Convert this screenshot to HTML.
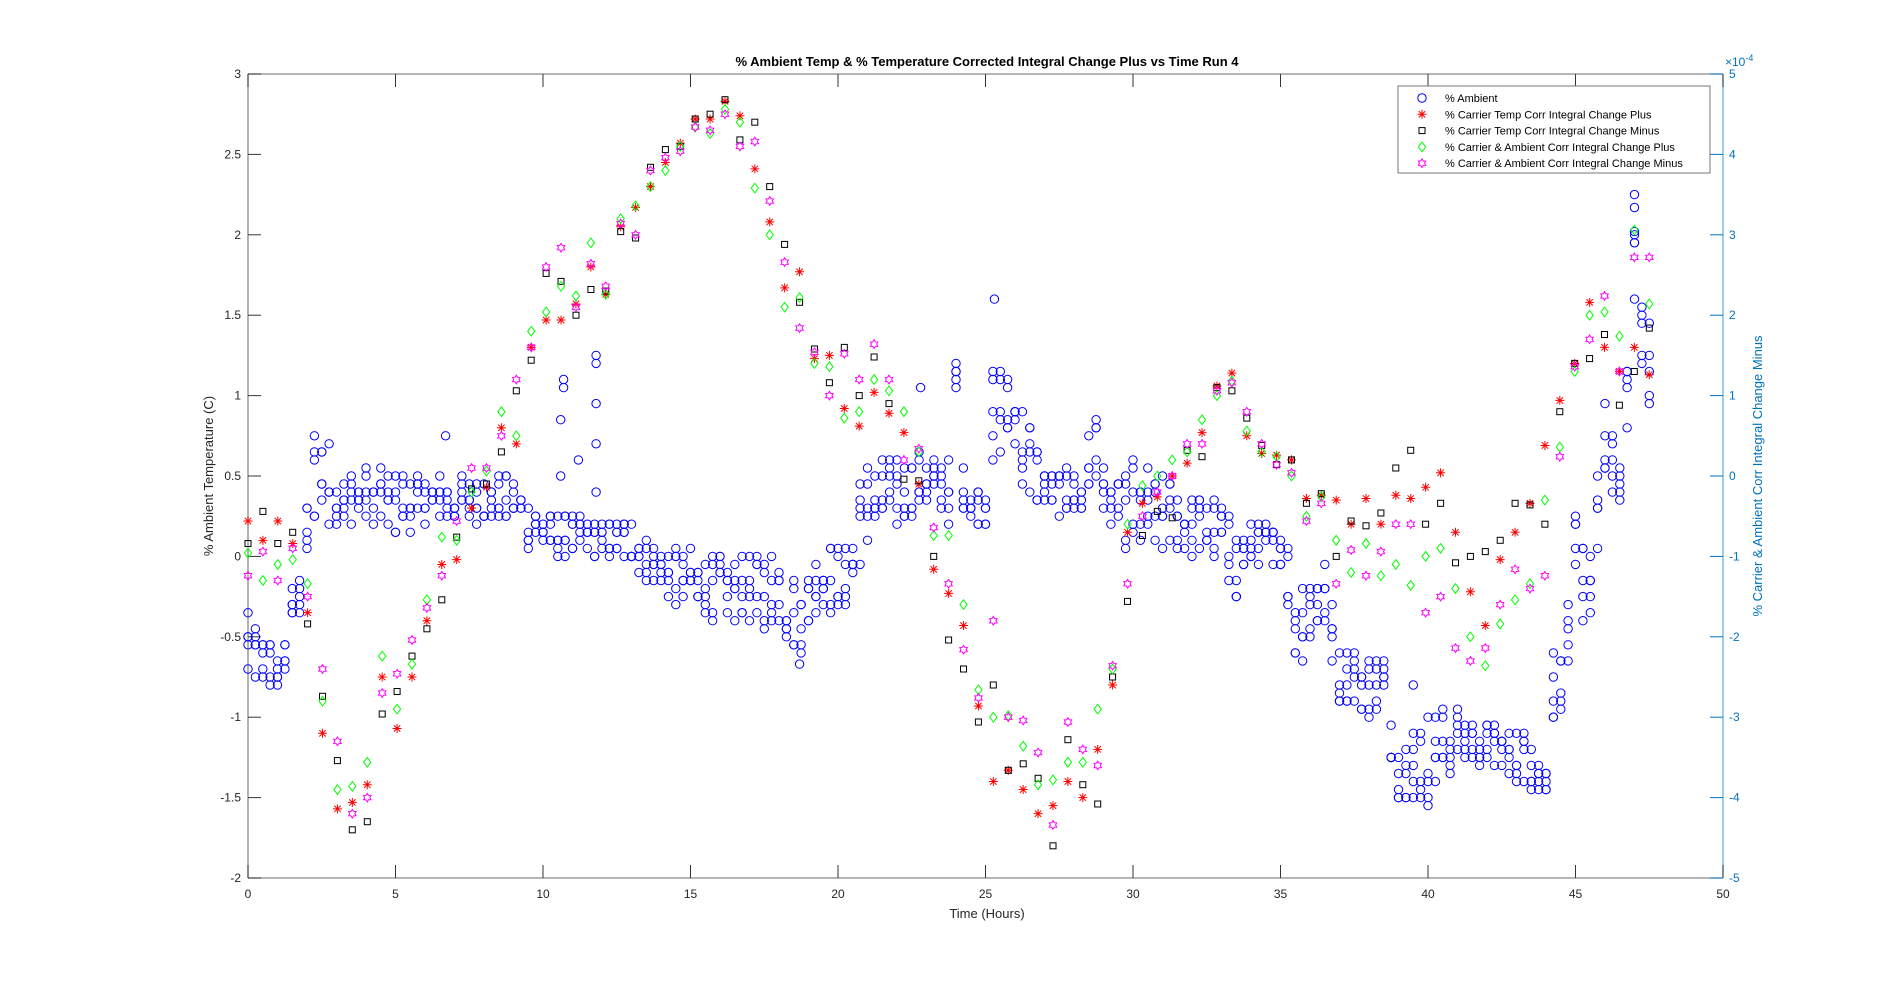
<!DOCTYPE html>
<html><head><meta charset="utf-8"><style>
html,body{margin:0;padding:0;background:#fff;}
svg{display:block;font-family:"Liberation Sans",sans-serif;}
</style></head><body>
<svg id="s" width="1904" height="987" xmlns="http://www.w3.org/2000/svg"></svg>
<script>
var L=248,R=1723,T=74,B=878;
function X(t){return L+t*(R-L)/50;}
function Y(v){return T+(3-v)*(B-T)/5;}
function YR(r){return T+(5-r)*(B-T)/10;}
var o=[];
o.push('<rect x="'+L+'" y="'+T+'" width="'+(R-L)+'" height="'+(B-T)+'" fill="#fff"/>');
o.push('<line x1="'+L+'" y1="'+T+'" x2="'+R+'" y2="'+T+'" stroke="#888" stroke-width="1.3"/>');
o.push('<line x1="'+L+'" y1="'+B+'" x2="'+R+'" y2="'+B+'" stroke="#888" stroke-width="1.3"/>');
o.push('<line x1="'+L+'" y1="'+T+'" x2="'+L+'" y2="'+B+'" stroke="#888" stroke-width="1.3"/>');
o.push('<line x1="'+R+'" y1="'+T+'" x2="'+R+'" y2="'+B+'" stroke="#6aaee0" stroke-width="1.3"/>');
for(var i=0;i<=10;i++){var x=X(i*5);
 o.push('<line x1="'+x+'" y1="'+B+'" x2="'+x+'" y2="'+(B-13)+'" stroke="#333" stroke-width="1"/>');
 o.push('<line x1="'+x+'" y1="'+T+'" x2="'+x+'" y2="'+(T+13)+'" stroke="#333" stroke-width="1"/>');
 o.push('<text x="'+x+'" y="'+(B+20)+'" font-size="12" text-anchor="middle" fill="#262626">'+(i*5)+'</text>');}
var yl=[3,2.5,2,1.5,1,0.5,0,-0.5,-1,-1.5,-2];
yl.forEach(function(v){var y=Y(v);
 o.push('<line x1="'+L+'" y1="'+y+'" x2="'+(L+13)+'" y2="'+y+'" stroke="#333" stroke-width="1"/>');
 o.push('<text x="'+(L-7)+'" y="'+(y+4)+'" font-size="12" text-anchor="end" fill="#262626">'+v+'</text>');});
for(var r=5;r>=-5;r--){var y=YR(r);
 o.push('<line x1="'+R+'" y1="'+y+'" x2="'+(R-13)+'" y2="'+y+'" stroke="#0072bd" stroke-width="1"/>');
 o.push('<text x="'+(R+6)+'" y="'+(y+4)+'" font-size="12" fill="#0072bd">'+r+'</text>');}
o.push('<text x="'+(R+2)+'" y="66" font-size="12" fill="#0072bd">×10<tspan font-size="9" dy="-5">-4</tspan></text>');
o.push('<text x="987" y="66" font-size="13" font-weight="bold" text-anchor="middle" fill="#000">% Ambient Temp &amp; % Temperature Corrected Integral Change Plus vs Time Run 4</text>');
o.push('<text x="987" y="918" font-size="13" text-anchor="middle" fill="#262626">Time (Hours)</text>');
o.push('<text transform="translate(213,476) rotate(-90)" font-size="13" text-anchor="middle" fill="#262626">% Ambient Temperature (C)</text>');
o.push('<text transform="translate(1762,476) rotate(-90)" font-size="13" text-anchor="middle" fill="#0072bd">% Carrier &amp; Ambient Corr Integral Change Minus</text>');

function circ(x,y,c){return '<circle cx="'+x.toFixed(1)+'" cy="'+y.toFixed(1)+'" r="4.2" fill="none" stroke="'+c+'" stroke-width="1"/>';}
function sq(x,y){return '<rect x="'+(x-3).toFixed(1)+'" y="'+(y-3).toFixed(1)+'" width="6" height="6" fill="none" stroke="#000" stroke-width="1"/>';}
function star(x,y){var s=4.5,a=3.2;return '<path d="M'+x+' '+(y-s)+'V'+(y+s)+'M'+(x-s)+' '+y+'H'+(x+s)+'M'+(x-a)+' '+(y-a)+'L'+(x+a)+' '+(y+a)+'M'+(x-a)+' '+(y+a)+'L'+(x+a)+' '+(y-a)+'" stroke="#f00" stroke-width="1" fill="none"/>';}
function dia(x,y){var s=4.8;return '<path d="M'+x+' '+(y-s)+'L'+(x+s*0.75)+' '+y+'L'+x+' '+(y+s)+'L'+(x-s*0.75)+' '+y+'Z" stroke="#0f0" stroke-width="1" fill="none"/>';}
function hexa(x,y){var p=[],s=4.3;for(var k=0;k<12;k++){var ang=Math.PI/2+k*Math.PI/6;var rr=(k%2==0)?s:s*0.6;p.push((x+rr*Math.cos(ang)).toFixed(1)+' '+(y-rr*Math.sin(ang)).toFixed(1));}return '<path d="M'+p.join('L')+'Z" stroke="#f0f" stroke-width="1" fill="none"/>';}

var kp=[[0,-0.85,-0.35],[1.2,-0.85,-0.6],[1.5,-0.4,-0.15],[1.9,-0.4,-0.15],[2.1,0.15,0.9],[2.6,0.2,0.85],[3,0.2,0.5],[4,0.2,0.55],[5,0.1,0.55],[6,0.2,0.5],[9,0.2,0.5],[9.5,0.05,0.4],[10,0,0.3],[12,0,0.2],[13,-0.05,0.25],[14,-0.25,0.05],[15,-0.35,0.05],[16,-0.4,0],[18,-0.45,0.05],[18.7,-0.65,-0.2],[19.3,-0.35,0.1],[20.4,-0.35,0.05],[20.8,0,0.6],[21.5,0.1,0.6],[23,0.3,0.65],[23.8,0.2,0.6],[24,0.85,1.25],[24.3,0.2,0.45],[25,0.2,0.45],[25.3,0.6,1.3],[26,0.6,1.1],[26.5,0.3,0.9],[27,0.3,0.55],[28.3,0.2,0.55],[28.7,0.5,1.0],[29.2,0.15,0.4],[30,0,0.6],[32,0,0.4],[33,-0.05,0.35],[33.5,-0.3,0.2],[34,-0.05,0.2],[35,-0.05,0.2],[35.5,-0.7,0],[36.5,-0.5,0],[37,-0.9,-0.55],[38.5,-1.05,-0.6],[39,-1.5,-1.15],[40,-1.55,-0.95],[41,-1.3,-0.95],[42,-1.3,-1.05],[43.5,-1.45,-1.05],[44,-1.5,-1.3],[44.2,-1.05,-0.5],[44.6,-0.9,-0.65],[45,-0.45,0.25],[45.5,-0.4,0.05],[46,0.3,1.0],[46.6,0.35,0.5],[47,1.5,2.3],[47.5,0.85,1.45]];
function interp(t){for(var i=0;i<kp.length-1;i++){if(t<=kp[i+1][0]){var a=kp[i],b=kp[i+1],f=(t-a[0])/(b[0]-a[0]);return [a[1]+f*(b[1]-a[1]),a[2]+f*(b[2]-a[2])];}}return [kp[kp.length-1][1],kp[kp.length-1][2]];}
var seed=12345;function rnd(){seed=(seed*1103515245+12345)%2147483648;return seed/2147483648;}
for(var t=0;t<=47.51;t+=0.25){var r2=interp(t);for(var k=0;k<5;k++){var v=r2[0]+(r2[1]-r2[0])*rnd();v=Math.round(v*20)/20;o.push(circ(X(t),Y(v),'#00f'));}}
[[10.6,0.5],[10.6,0.85],[10.7,1.05],[10.7,1.1],[11.8,0.4],[11.8,0.7],[11.8,0.95],[11.8,1.2],[11.8,1.25],[11.2,0.6],[39.5,-0.8],[25.3,1.6],[18.7,-0.67],[6.7,0.75],[22.8,1.05],[47,2.02],[47,2.17]].forEach(function(p){o.push(circ(X(p[0]),Y(p[1]),'#00f'));});

var red=[0.22,0.1,0.22,0.08,-0.35,-1.1,-1.57,-1.53,-1.42,-0.75,-1.07,-0.75,-0.4,-0.05,-0.02,0.3,0.43,0.8,0.7,1.3,1.47,1.47,1.57,1.8,1.63,2.05,2.17,2.3,2.45,2.57,2.72,2.72,2.83,2.74,2.41,2.08,1.67,1.77,1.23,1.25,0.92,0.81,1.02,0.89,0.77,0.45,-0.08,-0.23,-0.43,-0.93,-1.4,-1.33,-1.45,-1.6,-1.55,-1.4,-1.5,-1.2,-0.8,0.15,0.33,0.37,0.5,0.58,0.77,1.06,1.14,0.75,0.64,0.63,0.6,0.36,0.38,0.35,0.2,0.36,0.2,0.38,0.36,0.43,0.52,0.15,-0.22,-0.43,-0.02,0.15,0.33,0.69,0.97,1.2,1.58,1.3,1.15,1.3,1.13];
var blk=[0.08,0.28,0.08,0.15,-0.42,-0.87,-1.27,-1.7,-1.65,-0.98,-0.84,-0.62,-0.45,-0.27,0.12,0.42,0.45,0.65,1.03,1.22,1.76,1.71,1.5,1.66,1.65,2.02,1.98,2.42,2.53,2.55,2.72,2.75,2.84,2.59,2.7,2.3,1.94,1.58,1.29,1.08,1.3,1.0,1.24,0.95,0.48,0.47,0.0,-0.52,-0.7,-1.03,-0.8,-1.33,-1.29,-1.38,-1.8,-1.14,-1.42,-1.54,-0.75,-0.28,0.13,0.28,0.24,0.66,0.62,1.05,1.03,0.86,0.69,0.57,0.6,0.33,0.39,0.0,0.22,0.19,0.27,0.55,0.66,0.2,0.33,-0.04,0.0,0.03,0.1,0.33,0.32,0.2,0.9,1.2,1.23,1.38,0.94,1.15,1.42];
var grn=[0.02,-0.15,-0.05,-0.02,-0.17,-0.9,-1.45,-1.43,-1.28,-0.62,-0.95,-0.67,-0.27,0.12,0.1,0.4,0.53,0.9,0.75,1.4,1.52,1.68,1.62,1.95,1.63,2.1,2.18,2.3,2.4,2.55,2.67,2.63,2.78,2.7,2.29,2.0,1.55,1.61,1.2,1.18,0.86,0.9,1.1,1.03,0.9,0.65,0.13,0.13,-0.3,-0.83,-1.0,-0.99,-1.18,-1.42,-1.39,-1.28,-1.28,-0.95,-0.7,0.2,0.44,0.5,0.6,0.65,0.85,1.0,1.09,0.78,0.65,0.62,0.5,0.25,0.37,0.1,-0.1,0.08,-0.12,-0.05,-0.18,0.0,0.05,-0.2,-0.5,-0.68,-0.42,-0.27,-0.17,0.35,0.68,1.15,1.5,1.52,1.37,2.03,1.57];
var mag=[-0.12,0.03,-0.15,0.05,-0.25,-0.7,-1.15,-1.6,-1.5,-0.85,-0.73,-0.52,-0.32,-0.12,0.22,0.55,0.55,0.75,1.1,1.3,1.8,1.92,1.55,1.82,1.68,2.07,2.0,2.4,2.48,2.52,2.67,2.65,2.75,2.55,2.58,2.21,1.83,1.42,1.27,1.0,1.26,1.1,1.32,1.1,0.6,0.67,0.18,-0.17,-0.58,-0.88,-0.4,-1.0,-1.02,-1.22,-1.67,-1.03,-1.2,-1.3,-0.68,-0.17,0.25,0.4,0.5,0.7,0.7,1.03,1.08,0.9,0.7,0.57,0.52,0.22,0.33,-0.17,0.04,-0.12,0.03,0.2,0.2,-0.35,-0.25,-0.57,-0.65,-0.57,-0.3,-0.08,-0.2,-0.12,0.62,1.18,1.35,1.62,1.15,1.86,1.86];
function tt(i,n){return i*47.5/(n-1);}
red.forEach(function(v,i){o.push(star(X(tt(i,red.length)),Y(v)));});
blk.forEach(function(v,i){o.push(sq(X(tt(i,blk.length)),Y(v)));});
grn.forEach(function(v,i){o.push(dia(X(tt(i,grn.length)),Y(v)));});
mag.forEach(function(v,i){o.push(hexa(X(tt(i,mag.length)),Y(v)));});

o.push('<rect x="1398" y="86" width="312" height="87" fill="#fff" stroke="#777" stroke-width="1"/>');
var lab=['% Ambient','% Carrier Temp Corr Integral Change Plus','% Carrier Temp Corr Integral Change Minus','% Carrier &amp; Ambient Corr Integral Change Plus','% Carrier &amp; Ambient Corr Integral Change Minus'];
for(var j=0;j<5;j++){var y=98+j*16.3;var mx=1422;
 if(j==0)o.push(circ(mx,y,'#00f'));if(j==1)o.push(star(mx,y));if(j==2)o.push(sq(mx,y));if(j==3)o.push(dia(mx,y));if(j==4)o.push(hexa(mx,y));
 o.push('<text x="1445" y="'+(y+4)+'" font-size="11" fill="#000">'+lab[j]+'</text>');}
document.getElementById('s').innerHTML=o.join('');
</script>
</body></html>
